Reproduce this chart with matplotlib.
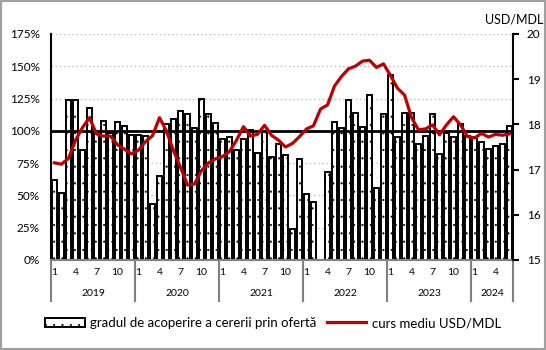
import matplotlib
matplotlib.use("Agg")
import matplotlib.pyplot as plt
import matplotlib.transforms as mtransforms
from matplotlib.patches import Patch, Rectangle
from matplotlib.lines import Line2D
import numpy as np

plt.rcParams['font.family'] = ['Lato', 'DejaVu Sans']
plt.rcParams['hatch.linewidth'] = 0.3

years = ['2019', '2020', '2021', '2022', '2023', '2024']
months_per_year = [12, 12, 12, 12, 12, 6]
month_labels = ['1', '4', '7', '10']

# gradul de acoperire a cererii prin oferta, %
acoperire = [62, 52, 124, 124, 85, 118, 98, 108, 98, 107, 104, 97,
             97, 96, 43, 65, 105, 109, 115, 113, 102, 125, 113, 106,
             94, 95, 85, 94, 101, 83, 100, 80, 90, 81, 24, 78,
             51, 45, np.nan, 68, 107, 102, 124, 114, 103, 128, 56, 113,
             143, 95, 114, 114, 90, 96, 113, 82, 98, 95, 105, 96,
             95, 91, 86, 88, 90, 104]

# curs mediu USD/MDL
curs = [17.15, 17.12, 17.25, 17.65, 17.93, 18.15, 17.79, 17.74, 17.74, 17.55, 17.45, 17.35,
        17.43, 17.62, 17.75, 18.15, 17.85, 17.42, 17.05, 16.66, 16.68, 16.98, 17.15, 17.24,
        17.29, 17.40, 17.65, 17.95, 17.74, 17.78, 17.98, 17.76, 17.65, 17.50, 17.58, 17.73,
        17.90, 17.97, 18.34, 18.43, 18.85, 19.06, 19.23, 19.29, 19.40, 19.42, 19.26, 19.34,
        19.08, 18.80, 18.65, 18.15, 17.88, 17.90, 17.99, 17.77, 17.99, 18.17, 17.99, 17.73,
        17.70, 17.80, 17.72, 17.78, 17.76, 17.79]

red = '#C00000'
x = np.arange(len(acoperire))

fig = plt.figure(figsize=(5.46, 3.5), dpi=100)
ax = fig.add_axes([51/546, 90/350, 462/546, 226/350])

ax.bar(x, acoperire, width=0.68, color='white', edgecolor='black',
       linewidth=1.4, hatch='..', zorder=2)
ax.axhline(100, color='black', linewidth=2, zorder=3)

ax.set_xlim(-0.5, len(x) - 0.5)
ax.set_ylim(0, 175)
ax.set_yticks(range(0, 176, 25))
ax.set_yticklabels([f'{v}%' for v in range(0, 176, 25)])
ax.yaxis.grid(True, linestyle=(0, (1, 2)), color='#BBBBBB', linewidth=1)
ax.set_axisbelow(True)
ax.tick_params(axis='y', length=0, labelsize=8.5, pad=8)
ax.set_xticks([])
ax.spines['top'].set_visible(False)
ax.spines['left'].set_linewidth(1.5)
ax.spines['right'].set_visible(False)
ax.spines['bottom'].set_color('#808080')
ax.spines['bottom'].set_linewidth(1.5)

# axa de jos: luni si ani
trans = mtransforms.blended_transform_factory(ax.transData, ax.transAxes)
start = 0
for yr, n in zip(years, months_per_year):
    ax.add_line(Line2D([start - 0.5, start - 0.5], [0, -0.18], transform=trans,
                       color='#808080', linewidth=1.5, clip_on=False))
    for k, lab in zip([0, 3, 6, 9], month_labels):
        if k < n:
            ax.text(start + k, -0.055, lab, transform=trans, ha='center', va='center',
                    fontsize=7.5)
    ax.text(start + (n - 1) / 2, -0.148, yr, transform=trans, ha='center', va='center',
            fontsize=7.5)
    start += n
ax.add_line(Line2D([start - 0.5, start - 0.5], [0, -0.18], transform=trans,
                   color='#808080', linewidth=1.5, clip_on=False))

ax2 = ax.twinx()
ax2.plot(x, curs, color=red, linewidth=2.3, zorder=4)
ax2.set_ylim(15, 20)
ax2.set_yticks(range(15, 21))
ax2.tick_params(axis='y', direction='out', length=4, width=1.5, labelsize=8.5, pad=6)
for s in ['top', 'left', 'bottom']:
    ax2.spines[s].set_visible(False)
ax2.spines['right'].set_linewidth(1.5)
ax2.text(0.94, 1.065, 'USD/MDL', transform=ax2.transAxes, ha='left', va='center',
         fontsize=9)

handles = [Patch(facecolor='white', edgecolor='black', hatch='..', linewidth=1.4),
           Line2D([0], [0], color=red, linewidth=2.3)]
fig.legend(handles, ['gradul de acoperire a cererii prin ofertă', 'curs mediu USD/MDL'],
           loc='center', bbox_to_anchor=(0.5, 0.077), ncol=2, frameon=False,
           fontsize=9.5, handlelength=3, handletextpad=0.4, columnspacing=0.8)

fig.patches.append(Rectangle((0, 0), 1, 1, transform=fig.transFigure, fill=False,
                             edgecolor='#A0A0A0', linewidth=3))

fig.savefig('out.png', dpi=100)
